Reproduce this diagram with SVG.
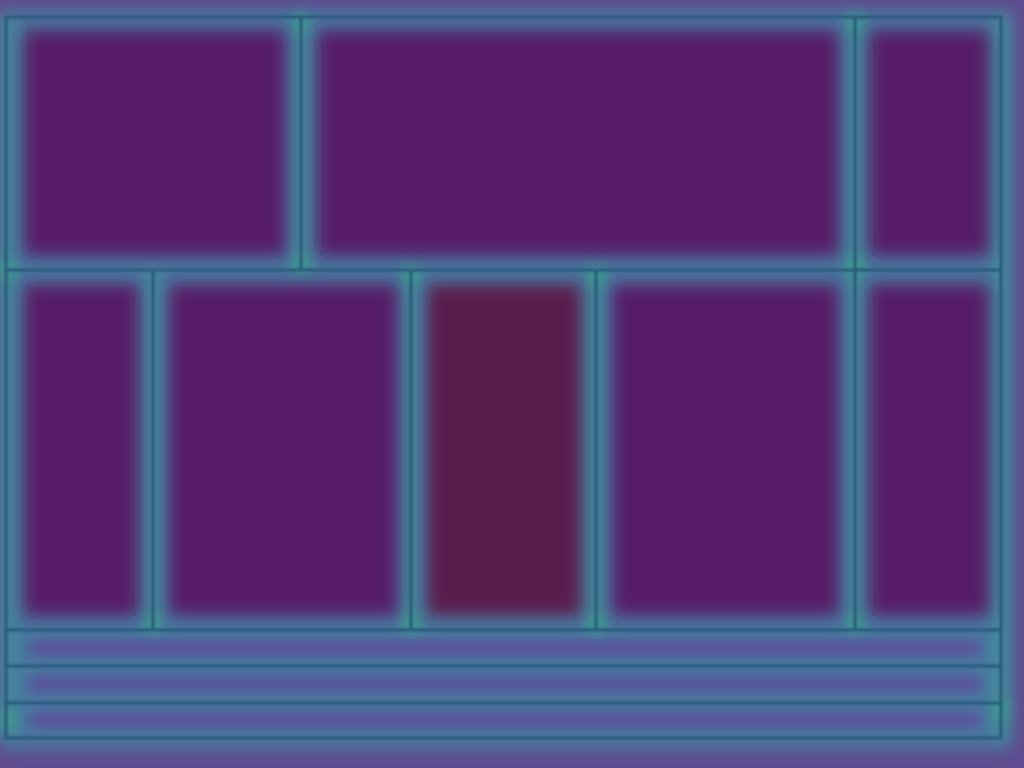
<svg xmlns="http://www.w3.org/2000/svg" width="1024" height="768" viewBox="0 0 1024 768">
<defs>
<filter id="b8" x="-20%" y="-20%" width="140%" height="140%"><feGaussianBlur stdDeviation="8"/></filter>
<filter id="b6" x="-20%" y="-20%" width="140%" height="140%"><feGaussianBlur stdDeviation="8"/></filter>
<filter id="b4" x="-20%" y="-100%" width="140%" height="300%"><feGaussianBlur stdDeviation="6"/></filter>
<filter id="b2" x="-5%" y="-5%" width="110%" height="110%"><feGaussianBlur stdDeviation="1.2"/></filter>
<filter id="bj" x="-100%" y="-100%" width="300%" height="300%"><feGaussianBlur stdDeviation="7"/></filter>
</defs>
<style>
.room{fill:#561b67}
.hot{fill:#5a1b4e}
.strip{fill:#5f4699}
.glow{stroke:#3aa68c;stroke-width:12;fill:none}
.ln{stroke:#295a7a;stroke-width:3;fill:none}
.jn{fill:#35b085}
</style>
<rect width="1024" height="768" fill="#5f4b8f"/>
<g filter="url(#b8)">
<rect x="0" y="10" width="1012" height="740" fill="#4a78a0"/>
</g>
<g filter="url(#b8)" opacity="0.6">
<path class="glow" d="M6 17V738M1001 17V738M301 17V270M855 17V630M153 270V630M411 270V630M596 270V630"/>
</g>
<g id="junctions" filter="url(#bj)" opacity="0.7">
<circle class="jn" cx="301" cy="266" r="9"/>
<circle class="jn" cx="855" cy="266" r="9"/>
<circle class="jn" cx="855" cy="22" r="8"/>
<circle class="jn" cx="301" cy="22" r="8"/>
<circle class="jn" cx="411" cy="275" r="9"/>
<circle class="jn" cx="596" cy="275" r="9"/>
<circle class="jn" cx="411" cy="625" r="9"/>
<circle class="jn" cx="596" cy="625" r="9"/>
<circle class="jn" cx="855" cy="625" r="8"/>
<circle class="jn" cx="153" cy="625" r="8"/>
<circle class="jn" cx="6" cy="270" r="9"/>
<circle class="jn" cx="6" cy="720" r="9"/>
<circle class="jn" cx="1001" cy="710" r="8"/>
</g>
<g id="rooms" filter="url(#b6)">
<rect id="r1" class="room" x="24" y="30" width="262" height="226"/>
<rect id="r2" class="room" x="317" y="30" width="522" height="226"/>
<rect id="r3" class="room" x="869" y="30" width="120" height="226"/>
<rect id="r4" class="room" x="24" y="284" width="115" height="332"/>
<rect id="r5" class="room" x="169" y="284" width="229" height="332"/>
<rect id="r6" class="hot" x="427" y="284" width="154" height="332"/>
<rect id="r7" class="room" x="612" y="284" width="227" height="332"/>
<rect id="r8" class="room" x="869" y="284" width="120" height="332"/>
</g>
<g id="strips" filter="url(#b4)" opacity="0.85">
<rect class="strip" x="30" y="641" width="950" height="14"/>
<rect class="strip" x="30" y="677" width="950" height="14"/>
<rect class="strip" x="30" y="713" width="950" height="14"/>
</g>
<g id="walls" filter="url(#b2)">
<rect class="ln" x="6" y="17" width="995" height="721"/>
<path class="ln" d="M6 270H1001M6 630H1001M6 666H1001M6 703H1001M301 17V270M855 17V630M153 270V630M411 270V630M596 270V630"/>
</g>
</svg>
